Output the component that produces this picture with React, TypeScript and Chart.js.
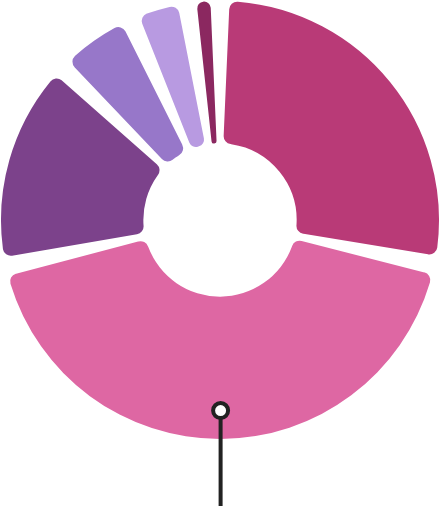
import { useEffect, useRef } from "react";
import { Chart, registerables } from "chart.js";

Chart.register(...registerables);

const categories = ["Segment A", "Segment B", "Segment C", "Segment D", "Segment E", "Segment F"];
const values = [28.3, 43.3, 15.6, 6.1, 4.3, 2.4];
const colors = ["#b93a77", "#de67a3", "#7c428b", "#9777c9", "#b89ae1", "#8b2860"];
const PAD_DEG = 5;
const markerIndex = 1;

export default function App() {
  const canvasRef = useRef<HTMLCanvasElement | null>(null);

  useEffect(() => {
    const canvas = canvasRef.current;
    if (!canvas) return;
    const total = values.reduce((a, b) => a + b, 0);
    const gap = (total * PAD_DEG) / 360;
    const data: number[] = [];
    const bg: string[] = [];
    const labels: string[] = [];
    values.forEach((v, i) => {
      data.push(v - gap);
      bg.push(colors[i]);
      labels.push(categories[i]);
      data.push(gap);
      bg.push("rgba(0,0,0,0)");
      labels.push("");
    });

    const markerPlugin = {
      id: "marker",
      afterDatasetsDraw(chart: any) {
        const meta = chart.getDatasetMeta(0);
        const arc = meta.data[markerIndex * 2];
        if (!arc) return;
        const p = arc.getProps(["x", "y", "startAngle", "endAngle", "innerRadius", "outerRadius"], true);
        const mid = (p.startAngle + p.endAngle) / 2;
        const r = p.innerRadius + (p.outerRadius - p.innerRadius) * 0.8;
        const px = p.x + Math.cos(mid) * r;
        const py = p.y + Math.sin(mid) * r;
        const ctx = chart.ctx;
        ctx.save();
        ctx.strokeStyle = "#222222";
        ctx.lineWidth = 4;
        ctx.beginPath();
        ctx.moveTo(px, py);
        ctx.lineTo(px, chart.height);
        ctx.stroke();
        ctx.beginPath();
        ctx.arc(px, py, 7.5, 0, Math.PI * 2);
        ctx.fillStyle = "#ffffff";
        ctx.fill();
        ctx.stroke();
        ctx.restore();
      },
    };

    const chart = new Chart(canvas, {
      type: "doughnut",
      data: {
        labels,
        datasets: [
          {
            data,
            backgroundColor: bg,
            borderWidth: 0,
            borderRadius: 8,
            hoverOffset: 0,
          },
        ],
      },
      options: {
        responsive: false,
        animation: false,
        rotation: PAD_DEG / 2,
        radius: 219,
        cutout: 77,
        layout: { padding: { bottom: 66 } },
        plugins: {
          legend: { display: false },
          tooltip: { enabled: false },
        },
      },
      plugins: [markerPlugin],
    });
    return () => chart.destroy();
  }, []);

  return (
    <div style={{ position: "absolute", left: 0, top: 0, width: 440, height: 506, background: "#ffffff" }}>
      <canvas ref={canvasRef} width={440} height={506} style={{ display: "block" }} />
    </div>
  );
}
